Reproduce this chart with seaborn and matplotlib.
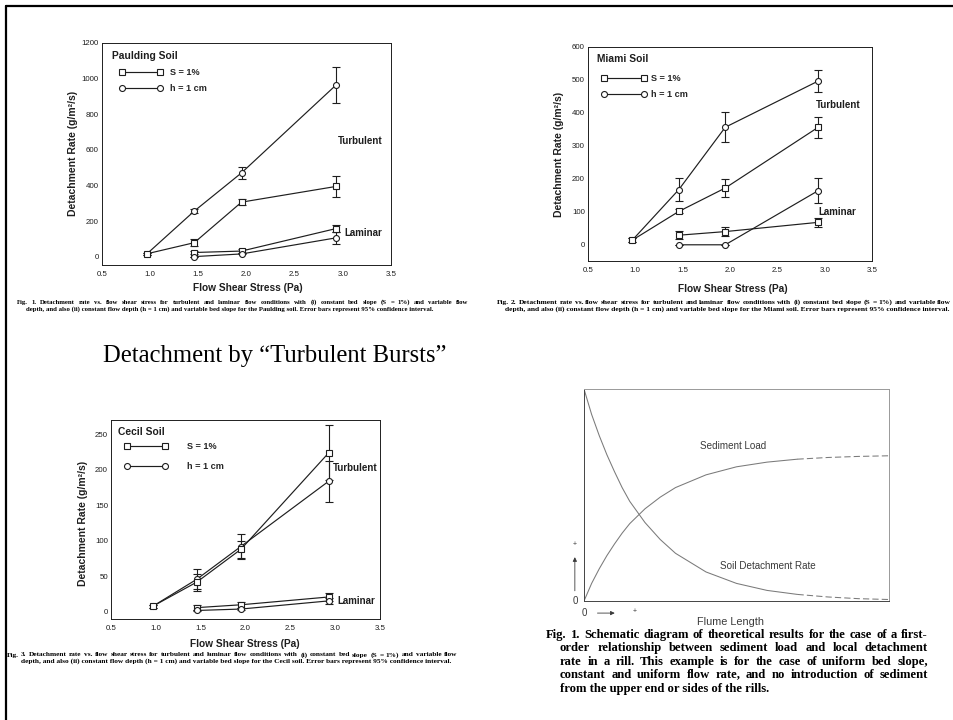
import matplotlib
matplotlib.use("Agg")
import matplotlib.pyplot as plt
from matplotlib.lines import Line2D
import seaborn as sns

# ---- data ----
SHEAR = [0.97, 1.46, 1.95, 2.93]
SHEAR_LAM = [1.46, 1.95, 2.93]

PAULDING_TURB_S = [18, 80, 307, 395]
PAULDING_TURB_S_ERR = [6, 20, 18, 60]
PAULDING_TURB_H = [18, 257, 471, 963]
PAULDING_TURB_H_ERR = [6, 10, 35, 103]
PAULDING_LAM_S = [25, 33, 159]
PAULDING_LAM_S_ERR = [10, 12, 18]
PAULDING_LAM_H = [2, 17, 107]
PAULDING_LAM_H_ERR = [0, 3, 32]

MIAMI_TURB_S = [14, 101, 172, 356]
MIAMI_TURB_S_ERR = [6, 6, 27, 32]
MIAMI_TURB_H = [14, 167, 356, 496]
MIAMI_TURB_H_ERR = [6, 35, 46, 33]
MIAMI_LAM_S = [29, 40, 68]
MIAMI_LAM_S_ERR = [12, 13, 14]
MIAMI_LAM_H = [0, 0, 164]
MIAMI_LAM_H_ERR = [0, 0, 38]

CECIL_TURB_S = [8, 42, 88, 224]
CECIL_TURB_S_ERR = [2, 12, 12, 39]
CECIL_TURB_H = [8, 46, 92, 184]
CECIL_TURB_H_ERR = [2, 14, 18, 29]
CECIL_LAM_S = [6, 10, 21]
CECIL_LAM_S_ERR = [3, 4, 5]
CECIL_LAM_H = [2, 4, 15.5]
CECIL_LAM_H_ERR = [1, 1, 4]

# schematic (relative flume length vs relative value)
FLUME_X = [0, 0.025, 0.05, 0.075, 0.1, 0.125, 0.15, 0.2, 0.25, 0.3, 0.4, 0.5, 0.6, 0.7, 0.8, 0.9, 1.0]
DETACH_RATE = [1.0, 0.88, 0.78, 0.69, 0.61, 0.535, 0.47, 0.37, 0.29, 0.225, 0.137, 0.083, 0.05, 0.031, 0.019, 0.011, 0.007]
SED_LOAD = [0, 0.083, 0.152, 0.214, 0.269, 0.32, 0.365, 0.435, 0.49, 0.535, 0.595, 0.633, 0.655, 0.669, 0.677, 0.682, 0.685]

CAP_TAIL = ("depth, and also (ii) constant flow depth (h = 1 cm) and variable bed slope for the {} soil. "
            "Error bars represent 95% confidence interval.")
CAP_HEAD = ("Fig. {}. Detachment rate vs. flow shear stress for turbulent and laminar flow conditions "
            "with (i) constant bed slope (S = 1%) and variable flow")
SCHEMATIC_CAPTION = [
    "Fig. 1. Schematic diagram of theoretical results for the case of a first-",
    "order relationship between sediment load and local detachment",
    "rate in a rill. This example is for the case of uniform bed slope,",
    "constant and uniform flow rate, and no introduction of sediment",
    "from the upper end or sides of the rills.",
]

sns.set_style("white")
plt.rcParams["font.family"] = ["Liberation Sans", "DejaVu Sans"]

INK = "#1e1e1e"
W, H = 954, 720
fig = plt.figure(figsize=(W / 100, H / 100), dpi=100)
renderer = fig.canvas.get_renderer()


def px_axes(left, top, right, bottom):
    return fig.add_axes([left / W, 1 - bottom / H, (right - left) / W, (bottom - top) / H])


def justified(text, x0, x1, y, **kw):
    # spread the words of one line over x0..x1 (pixels), like the printed caption
    words = text.split()
    arts = [fig.text(0, 1 - y / H, w, va="center", **kw) for w in words]
    widths = [a.get_window_extent(renderer).width for a in arts]
    gap = ((x1 - x0) - sum(widths)) / max(len(words) - 1, 1)
    x = x0
    for a, w in zip(arts, widths):
        a.set_x(x / W)
        x += w + gap


def series(ax, x, y, err, marker):
    ax.errorbar(x, y, yerr=err, fmt="none", ecolor=INK, elinewidth=0.8,
                capsize=2.8, capthick=0.8, zorder=2)
    sns.lineplot(x=x, y=y, ax=ax, color=INK, linewidth=0.85, marker=marker,
                 markersize=4.3, markerfacecolor="white", markeredgecolor=INK,
                 markeredgewidth=0.8, zorder=3)


def soil_panel(ax, name, ts, tse, th, the, ls, lse, lh, lhe, ylim, ystep,
               turb_xy, lam_xy, title_xy, leg, ylab_xy, xlab_xy):
    series(ax, SHEAR, th, the, "o")
    series(ax, SHEAR, ts, tse, "s")
    series(ax, SHEAR_LAM, ls, lse, "s")
    series(ax, SHEAR_LAM, lh, lhe, "o")
    ax.set_xlim(0.5, 3.5)
    ax.set_ylim(*ylim)
    ax.set_xticks([0.5, 1.0, 1.5, 2.0, 2.5, 3.0, 3.5])
    ax.set_xticks([v / 10 for v in range(5, 36)], minor=True)
    ax.set_yticks(list(range(0, ylim[1] + 1, ystep)))
    ax.tick_params(axis="both", which="major", direction="in", length=3, width=0.6,
                   labelsize=5.7, colors=INK, pad=2)
    ax.tick_params(axis="x", which="minor", direction="in", length=1.5, width=0.5, colors=INK)
    ax.tick_params(axis="x", which="major", pad=4)
    for s in ax.spines.values():
        s.set_linewidth(0.7)
        s.set_color(INK)
    ax.set_xlabel("Flow Shear Stress (Pa)", fontsize=7.3, fontweight="bold", color=INK)
    ax.set_ylabel("Detachment Rate (g/m²/s)", fontsize=7.5, fontweight="bold", color=INK)
    ax.xaxis.set_label_coords(*xlab_xy)
    ax.yaxis.set_label_coords(*ylab_xy)
    ax.text(*turb_xy, "Turbulent", fontsize=7, fontweight="bold", color=INK, va="center")
    ax.text(*lam_xy, "Laminar", fontsize=7, fontweight="bold", color=INK, va="center")
    ax.text(*title_xy, name, transform=ax.transAxes, fontsize=7.4, fontweight="bold",
            color=INK, va="center")
    handles = [Line2D([], [], color=INK, lw=0.85, marker=m, ms=4.3, mfc="white",
                      mec=INK, mew=0.8) for m in ("s", "o")]
    ax.legend(handles, ["S = 1%", "h = 1 cm"], numpoints=2, frameon=False,
              loc="upper left", bbox_to_anchor=leg[:2], borderpad=0, borderaxespad=0,
              handlelength=leg[2], handletextpad=leg[3], labelspacing=leg[4],
              prop=dict(weight="bold", size=6.6))


ax1 = px_axes(101.7, 42.7, 391, 265)
soil_panel(ax1, "Paulding Soil", PAULDING_TURB_S, PAULDING_TURB_S_ERR, PAULDING_TURB_H,
           PAULDING_TURB_H_ERR, PAULDING_LAM_S, PAULDING_LAM_S_ERR, PAULDING_LAM_H,
           PAULDING_LAM_H_ERR, (-45, 1200), 200, (2.95, 648), (3.02, 135),
           (0.036, 0.94), (0.0615, 0.885, 4.7, 0.8, 0.72), (-0.082, 0.5), (0.506, -0.083))

ax2 = px_axes(587.7, 46.7, 872.3, 261.3)
soil_panel(ax2, "Miami Soil", MIAMI_TURB_S, MIAMI_TURB_S_ERR, MIAMI_TURB_H, MIAMI_TURB_H_ERR,
           MIAMI_LAM_S, MIAMI_LAM_S_ERR, MIAMI_LAM_H, MIAMI_LAM_H_ERR, (-50, 600), 100,
           (2.9, 422), (2.93, 99), (0.033, 0.941), (0.0485, 0.872, 4.9, 0.5, 0.75),
           (-0.082, 0.5), (0.51, -0.106))

ax3 = px_axes(110.7, 420, 380, 619)
soil_panel(ax3, "Cecil Soil", CECIL_TURB_S, CECIL_TURB_S_ERR, CECIL_TURB_H, CECIL_TURB_H_ERR,
           CECIL_LAM_S, CECIL_LAM_S_ERR, CECIL_LAM_H, CECIL_LAM_H_ERR, (-10, 270), 50,
           (2.98, 203), (3.02, 15), (0.026, 0.938), (0.051, 0.887, 4.7, 2.1, 1.12),
           (-0.083, 0.48), (0.499, -0.098))

# schematic panel
ax4 = px_axes(584, 389, 889, 601)
GREY = "#7a7a7a"
solid = [i for i, v in enumerate(FLUME_X) if v <= 0.7]
dash = [i for i, v in enumerate(FLUME_X) if v >= 0.7]
for curve in (DETACH_RATE, SED_LOAD):
    sns.lineplot(x=[FLUME_X[i] for i in solid], y=[curve[i] for i in solid], ax=ax4,
                 color=GREY, linewidth=0.75)
    sns.lineplot(x=[FLUME_X[i] for i in dash], y=[curve[i] for i in dash], ax=ax4,
                 color=GREY, linewidth=0.75, linestyle=(0, (6, 3)))
ax4.set_xlim(0, 1)
ax4.set_ylim(0, 1)
ax4.set_xticks([])
ax4.set_yticks([])
ax4.set_xlabel("")
ax4.set_ylabel("")
for side, s in ax4.spines.items():
    s.set_linewidth(0.7)
    s.set_color("#444" if side in ("left", "bottom") else "#999")
TXT = "#3a3a3a"
ax4.text(0.38, 0.73, "Sediment Load", fontsize=7.1, color=TXT, va="center")
ax4.text(0.445, 0.164, "Soil Detachment Rate", fontsize=7.1, color=TXT, va="center")
ax4.text(-0.03, 0.0, "0", transform=ax4.transAxes, fontsize=7, color=TXT,
         ha="center", va="center")
ax4.annotate("", xy=(-0.03, 0.22), xytext=(-0.03, 0.035), xycoords="axes fraction",
             arrowprops=dict(arrowstyle="-|>", color=TXT, lw=0.6, mutation_scale=6))
ax4.text(-0.03, 0.265, "+", transform=ax4.transAxes, fontsize=5, color=TXT,
         ha="center", va="center")
ax4.text(0.0, -0.057, "0", transform=ax4.transAxes, fontsize=7, color=TXT,
         ha="center", va="center")
ax4.annotate("", xy=(0.11, -0.057), xytext=(0.035, -0.057), xycoords="axes fraction",
             arrowprops=dict(arrowstyle="-|>", color=TXT, lw=0.6, mutation_scale=6))
ax4.text(0.167, -0.05, "+", transform=ax4.transAxes, fontsize=5, color=TXT,
         ha="center", va="center")
ax4.text(0.479, -0.10, "Flume Length", transform=ax4.transAxes, fontsize=7.8, color=TXT,
         ha="center", va="center")

# slide text
fig.text(103 / W, 1 - 362 / H, "Detachment by \u201cTurbulent Bursts\u201d",
         family="Liberation Serif", fontsize=17.7, va="baseline", color="black")

for fig_no, soil, x0, x1, xe, y0, y1, fs in [(1, "Paulding", 17, 26, 468, 302, 309, 4.83),
                                             (2, "Miami", 497, 505, 951, 302, 309.5, 5.4),
                                             (3, "Cecil", 7, 21, 457, 655, 661.5, 5.3)]:
    cap = dict(family="Liberation Serif", weight="bold", fontsize=fs, color="black")
    justified(CAP_HEAD.format(fig_no), x0, xe, y0, **cap)
    fig.text(x1 / W, 1 - y1 / H, CAP_TAIL.format(soil), va="center", **cap)

big = dict(family="Liberation Serif", weight="bold", fontsize=9.1, color="black")
for i, line in enumerate(SCHEMATIC_CAPTION):
    x0 = 546 if i == 0 else 560
    y = 635 + 13.4 * i
    if i < len(SCHEMATIC_CAPTION) - 1:
        justified(line, x0, 928, y, **big)
    else:
        fig.text(x0 / W, 1 - y / H, line, va="center", **big)

# slide border (left and top edges)
fig.add_artist(Line2D([6 / W, 6 / W], [0, 1 - 6 / H], color="black", lw=1.6))
fig.add_artist(Line2D([6 / W, 1], [1 - 6 / H, 1 - 6 / H], color="black", lw=1.6))

fig.savefig("out.png", dpi=100)
